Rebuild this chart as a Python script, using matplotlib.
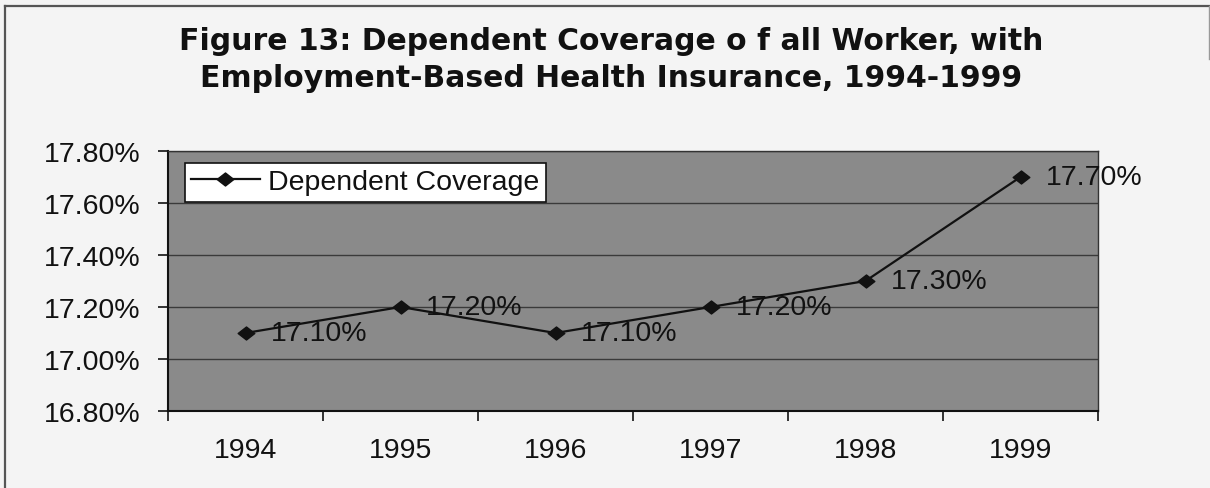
import matplotlib
matplotlib.use("Agg")
import matplotlib.pyplot as plt
from matplotlib.path import Path
from matplotlib.lines import Line2D

# Data
years = ["1994", "1995", "1996", "1997", "1998", "1999"]
coverage = [17.10, 17.20, 17.10, 17.20, 17.30, 17.70]
value_labels = ["17.10%", "17.20%", "17.10%", "17.20%", "17.30%", "17.70%"]
y_ticks = [16.80, 17.00, 17.20, 17.40, 17.60, 17.80]
y_tick_labels = ["16.80%", "17.00%", "17.20%", "17.40%", "17.60%", "17.80%"]
series_name = "Dependent Coverage"
title_lines = ["Figure 13: Dependent Coverage o f all Worker, with",
               "Employment-Based Health Insurance, 1994-1999"]

W, H = 1210, 489
DPI = 100
FS = 20.5
plt.rcParams["font.family"] = ["Liberation Sans", "DejaVu Sans"]

fig = plt.figure(figsize=(W / DPI, H / DPI), dpi=DPI)
fig.patch.set_facecolor("#f4f4f4")

def fx(px):
    return px / W

def fy(py):
    return 1 - py / H

# plot area in pixel coordinates
left, right, top, bottom = 168, 1098, 152, 412
ax = fig.add_axes([fx(left), fy(bottom), fx(right - left), (bottom - top) / H])
ax.set_facecolor("#8a8a8a")

n = len(years)
xpos = list(range(n))
ax.set_xlim(-0.5, n - 0.5)
ax.set_ylim(y_ticks[0], y_ticks[-1])

# horizontal gridlines
ax.set_yticks(y_ticks)
ax.set_yticklabels(y_tick_labels)
ax.yaxis.grid(True, color="#3a3a3a", linewidth=1.0)
ax.set_axisbelow(True)

# category boundaries as ticks, labels centred under categories
ax.set_xticks([i - 0.5 for i in range(n + 1)])
ax.set_xticklabels([])
ax.set_xticks(xpos, minor=True)
ax.set_xticklabels(years, minor=True)
ax.tick_params(axis="x", which="major", length=7, width=1.2, color="#111111", direction="out")
ax.tick_params(axis="x", which="minor", length=0, pad=19, labelsize=FS, labelcolor="#111111")
ax.tick_params(axis="y", length=7, width=1.2, color="#111111", direction="out",
               pad=13, labelsize=FS, labelcolor="#111111")

for side in ("left", "bottom"):
    ax.spines[side].set_color("#111111")
    ax.spines[side].set_linewidth(1.5)
for side in ("top", "right"):
    ax.spines[side].set_color("#333333")
    ax.spines[side].set_linewidth(1.0)

diamond = Path([(-1.0, 0.0), (0.0, 0.78), (1.0, 0.0), (0.0, -0.78), (-1.0, 0.0)],
               [Path.MOVETO, Path.LINETO, Path.LINETO, Path.LINETO, Path.CLOSEPOLY])

ax.plot(xpos, coverage, color="#111111", linewidth=1.6, marker=diamond,
        markersize=12, markerfacecolor="#111111", markeredgecolor="#111111",
        label=series_name, clip_on=False, zorder=3)

for x, v, lab in zip(xpos, coverage, value_labels):
    ax.annotate(lab, xy=(x, v), xytext=(18, 0), textcoords="offset points",
                ha="left", va="center", fontsize=FS, color="#111111",
                annotation_clip=False, zorder=4)

leg = ax.legend(loc="upper left", bbox_to_anchor=(fx(185), fy(164)),
                bbox_transform=fig.transFigure, borderaxespad=0,
                fontsize=FS, frameon=True, fancybox=False, shadow=False,
                handlelength=2.4, handletextpad=0.3, borderpad=0.22)
leg.get_frame().set_edgecolor("#111111")
leg.get_frame().set_linewidth(1.2)
leg.get_frame().set_facecolor("white")
leg.get_frame().set_alpha(1)
for t in leg.get_texts():
    t.set_color("#111111")

# title
for line, base in zip(title_lines, (50, 87)):
    fig.text(0.505, fy(base), line, ha="center", va="baseline",
             fontsize=21.5, fontweight="bold", color="#111111",
             family=["DejaVu Sans"])

# outer chart border (top and left edges)
fig.add_artist(Line2D([fx(5), fx(1210)], [fy(7), fy(7)], color="#555555", linewidth=1.6))
fig.add_artist(Line2D([fx(5), fx(5)], [fy(7), fy(489)], color="#555555", linewidth=1.6))
fig.add_artist(Line2D([fx(1208.5), fx(1208.5)], [fy(7), fy(60)], color="#999999", linewidth=1.0))

fig.savefig("out.png", dpi=DPI, facecolor=fig.get_facecolor())
